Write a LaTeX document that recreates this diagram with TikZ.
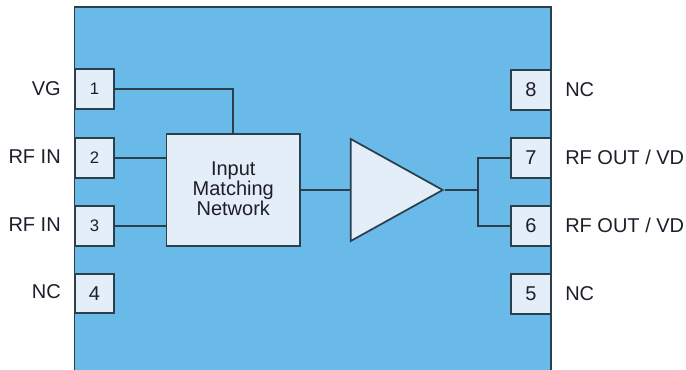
\documentclass[tikz,border=0pt]{standalone}
\usepackage{fontspec}
\setmainfont{Liberation Sans}
\usetikzlibrary{shapes.geometric}
\definecolor{chipblue}{HTML}{69B9E9}
\definecolor{boxfill}{HTML}{E3EEF8}
\definecolor{wirecol}{HTML}{2B3F4C}
\definecolor{textcol}{HTML}{1E1E2A}
\tikzset{
  pin/.style={draw=wirecol,fill=boxfill,line width=1.3pt,minimum width=29.6pt,minimum height=29.6pt,inner sep=0pt,text=textcol},
  smallpin/.style={pin,font=\fontsize{12.5}{14}\selectfont},
  bigpin/.style={pin,font=\fontsize{15}{16}\selectfont},
  pinlabel/.style={inner sep=0pt,text=textcol,font=\fontsize{15}{16}\selectfont},
  wire/.style={draw=wirecol,line width=1.3pt}
}
\begin{document}
\begin{tikzpicture}[x=0.75pt,y=-0.75pt]
      \useasboundingbox (0,0) rectangle (686,370);

      \node [draw=wirecol,fill=chipblue,line width=1.3pt,minimum width=357.5pt,minimum height=276pt,inner sep=0pt] (chip) at (312.75,191) {};

      \node [smallpin] (p1) at (94.5,89) {1};
      \node [smallpin] (p2) at (94.5,158) {2};
      \node [smallpin] (p3) at (94.5,226) {3};
      \node [bigpin] (p4) at (94.5,293.5) {4};
      \node [bigpin] (p5) at (531,294) {5};
      \node [bigpin] (p6) at (531,226) {6};
      \node [bigpin] (p7) at (531,158) {7};
      \node [bigpin] (p8) at (531,90) {8};

      \node [pinlabel,anchor=east] (vg) at (61,89) {VG};
      \node [pinlabel,anchor=east] (rfin1) at (61,157) {RF IN};
      \node [pinlabel,anchor=east] (rfin2) at (61,225) {RF IN};
      \node [pinlabel,anchor=east] (nc4) at (61,292) {NC};
      \node [pinlabel,anchor=west] (nc8) at (565,89.5) {NC};
      \node [pinlabel,anchor=west] (rfout7) at (565,157.5) {RF OUT / VD};
      \node [pinlabel,anchor=west] (rfout6) at (565,225.5) {RF OUT / VD};
      \node [pinlabel,anchor=west] (nc5) at (565,293.5) {NC};

      \node [draw=wirecol,fill=boxfill,line width=1.3pt,minimum width=100pt,minimum height=84pt,inner sep=0pt,align=center,text=textcol,font=\fontsize{15}{15}\selectfont] (match) at (233.25,190) {Input\\Matching\\Network\rule[-2.4pt]{0pt}{2.4pt}};
      \node [isosceles triangle,isosceles triangle stretches,draw=wirecol,fill=boxfill,line width=1.3pt,minimum width=76.5pt,minimum height=69pt,inner sep=0pt,anchor=apex] (amp) at (445,190) {};
      \coordinate (split) at (478,190);

      \draw[wire] (p1) -| (match);
      \draw[wire] (p2) -- (p2 -| match.west);
      \draw[wire] (p3) -- (p3 -| match.west);
      \draw[wire] (match) -- (amp.lower side);
      \draw[wire] (amp.apex) -- (split);
      \draw[wire] (split) |- (p7);
      \draw[wire] (split) |- (p6);
    \end{tikzpicture}
\end{document}
